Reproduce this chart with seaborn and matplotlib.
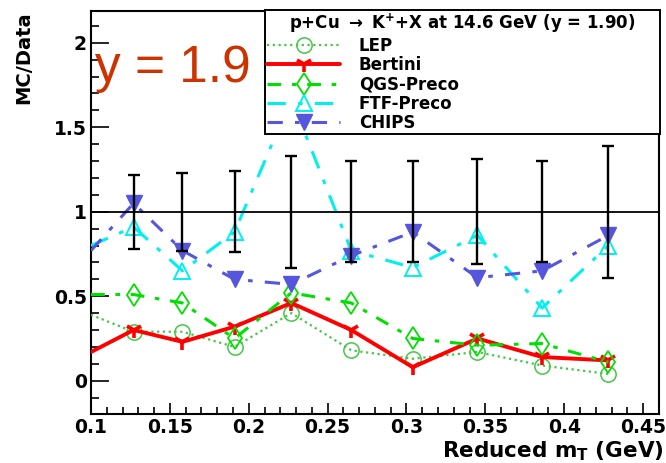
import matplotlib
matplotlib.use("Agg")
import matplotlib.pyplot as plt
from matplotlib.lines import Line2D
from matplotlib.ticker import MultipleLocator, FormatStrFormatter
import seaborn as sns

# ---- data ----
x_vals = [0.100, 0.127, 0.158, 0.191, 0.227, 0.265, 0.304, 0.345, 0.386, 0.428]
lep = [0.39, 0.29, 0.29, 0.20, 0.40, 0.18, 0.13, 0.17, 0.09, 0.04]
bertini = [0.17, 0.30, 0.23, 0.32, 0.46, 0.30, 0.08, 0.25, 0.14, 0.12]
qgs_preco = [0.51, 0.51, 0.46, 0.25, 0.52, 0.46, 0.25, 0.21, 0.22, 0.11]
ftf_preco = [0.80, 0.91, 0.65, 0.88, 1.67, 0.77, 0.67, 0.86, 0.43, 0.80]
chips = [0.77, 1.05, 0.77, 0.60, 0.57, 0.74, 0.88, 0.61, 0.65, 0.86]

data_x = [0.127, 0.158, 0.191, 0.227, 0.265, 0.304, 0.345, 0.386, 0.428]
data_ratio = [1, 1, 1, 1, 1, 1, 1, 1, 1]
data_err = [0.22, 0.23, 0.24, 0.33, 0.30, 0.30, 0.31, 0.30, 0.39]

series_names = ["LEP", "Bertini", "QGS-Preco", "FTF-Preco", "CHIPS"]
legend_title = r"p+Cu $\rightarrow$ K$^{+}$+X at 14.6 GeV (y = 1.90)"
x_label = r"Reduced m$_{T}$ (GeV)"
y_label = "MC/Data"
annotation = "y = 1.9"

# ---- style ----
sns.set_style("white")
plt.rcParams["font.family"] = ["DejaVu Sans"]
plt.rcParams["font.weight"] = "bold"
plt.rcParams["text.color"] = "black"
plt.rcParams["axes.labelcolor"] = "black"
plt.rcParams["xtick.color"] = "black"
plt.rcParams["ytick.color"] = "black"
plt.rcParams["mathtext.fontset"] = "custom"
plt.rcParams["mathtext.rm"] = "DejaVu Sans:bold"
plt.rcParams["mathtext.it"] = "DejaVu Sans:bold"
plt.rcParams["mathtext.bf"] = "DejaVu Sans:bold"

W, H = 666, 463
fig = plt.figure(figsize=(W / 100, H / 100), dpi=100)
fig.patch.set_facecolor("white")
ax = fig.add_axes([91 / W, 1 - 414 / H, (659 - 91) / W, (414 - 11) / H])
ax.set_facecolor("white")

styles = [
    dict(color="#44c844", ls=(0, (1.0, 1.6)), lw=1.6, marker="o", ms=11,
         mfc="none", mec="#44c844", mew=1.1),
    dict(color="#ff0000", ls="-", lw=2.8, marker="1", ms=12,
         mfc="#ff0000", mec="#ff0000", mew=2.6),
    dict(color="#00e000", ls=(0, (4.5, 3.5, 1.5, 3.5)), lw=2.2, marker="d", ms=11.5,
         mfc="none", mec="#00e000", mew=1.3),
    dict(color="#00f0f0", ls=(0, (6, 4, 1.5, 4)), lw=2.2, marker="^", ms=11.5,
         mfc="none", mec="#00f0f0", mew=1.4),
    dict(color="#5555dd", ls=(0, (5, 4, 1.5, 4)), lw=2.2, marker="v", ms=11.5,
         mfc="#5555dd", mec="#5555dd", mew=1.0),
]
all_series = [lep, bertini, qgs_preco, ftf_preco, chips]

mark_idx = list(range(1, len(x_vals)))
for vals, st in zip(all_series, styles):
    sns.lineplot(x=x_vals, y=vals, ax=ax, sort=False, legend=False,
                 markevery=mark_idx, zorder=3, **st)

ax.axhline(1.0, color="black", lw=1.3, zorder=4)
ax.errorbar(data_x, data_ratio, yerr=data_err, fmt="none", ecolor="black",
            elinewidth=1.7, capsize=4, capthick=1.7, zorder=5)

ax.set_xlim(0.1, 0.4601)
ax.set_ylim(-0.197, 2.188)
ax.xaxis.set_major_locator(MultipleLocator(0.05))
ax.xaxis.set_minor_locator(MultipleLocator(0.01))
ax.yaxis.set_major_locator(MultipleLocator(0.5))
ax.yaxis.set_minor_locator(MultipleLocator(0.1))
ax.xaxis.set_major_formatter(FormatStrFormatter("%g"))
ax.yaxis.set_major_formatter(FormatStrFormatter("%g"))

ax.tick_params(axis="both", which="both", direction="in", top=False, right=False,
               bottom=True, left=True, width=1.2, colors="black", labelsize=13.5)
ax.tick_params(axis="x", which="major", length=8, pad=3)
ax.tick_params(axis="x", which="minor", length=4.8)
ax.tick_params(axis="y", which="major", length=13, pad=3)
ax.tick_params(axis="y", which="minor", length=6)
for lab in ax.get_xticklabels() + ax.get_yticklabels():
    lab.set_fontweight("bold")
for sp in ax.spines.values():
    sp.set_visible(True)
    sp.set_color("black")
    sp.set_linewidth(1.5)

fig.text(664 / W, 1 - 457 / H, x_label, ha="right", va="baseline",
         fontsize=15.5, fontweight="bold", color="black")
fig.text(24 / W, 1 - 11 / H, y_label, rotation=90, ha="center", va="top",
         fontsize=14, fontweight="bold", color="black")

# legend
handles = [Line2D([], [], **st) for st in styles]
leg = ax.legend(handles=handles, labels=series_names, title=legend_title,
                loc="upper left",
                bbox_to_anchor=(265 / W, 1 - 133 / H, (660 - 265) / W, 123 / H),
                bbox_transform=fig.transFigure, mode="expand",
                prop={"weight": "bold", "size": 12},
                title_fontproperties={"weight": "bold", "size": 12},
                fancybox=False, framealpha=1, edgecolor="black",
                borderpad=0.12, labelspacing=0.08, handlelength=4.4,
                handletextpad=1.1, borderaxespad=0, numpoints=1,
                handleheight=0.6)
leg.get_frame().set_linewidth(1.4)
leg.set_zorder(10)
for t in leg.get_texts():
    t.set_color("black")
leg.get_title().set_color("black")

fig.text(95 / W, 1 - 82 / H, annotation, ha="left", va="baseline",
         fontsize=37, color="#cc3300", fontweight="normal",
         family="Liberation Sans")

fig.savefig("out.png", dpi=100)
